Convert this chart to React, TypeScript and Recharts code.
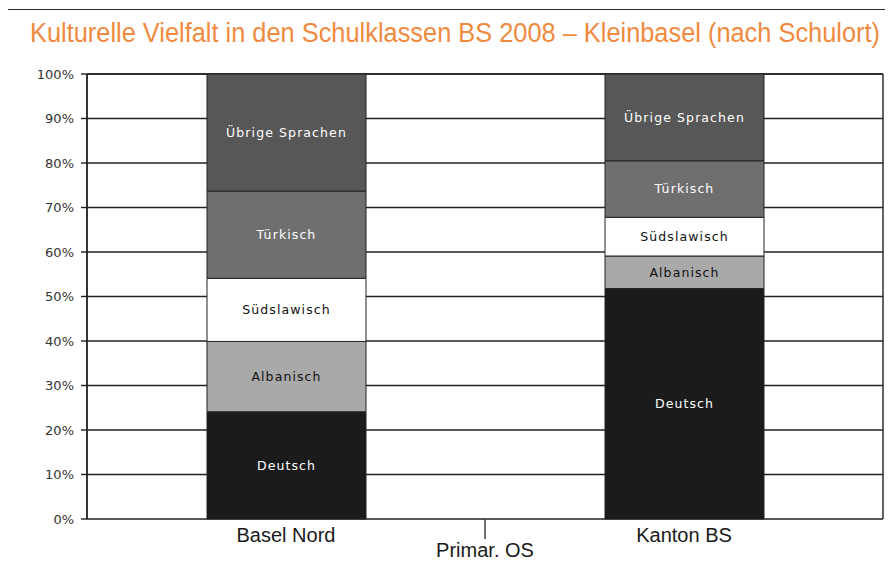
import React from 'react';
import { BarChart, Bar, XAxis, YAxis, CartesianGrid, LabelList } from 'recharts';

const categories = ['Basel Nord', 'Kanton BS'];
const groupLabel = 'Primar. OS';
const deutsch = [24.1, 51.8];
const albanisch = [15.8, 7.3];
const suedslawisch = [14.2, 8.7];
const tuerkisch = [19.6, 12.7];
const uebrige = [26.3, 19.5];
const yTicks = [0, 10, 20, 30, 40, 50, 60, 70, 80, 90, 100];
const title = 'Kulturelle Vielfalt in den Schulklassen BS 2008 – Kleinbasel (nach Schulort)';

const series = [
  { key: 'deutsch', name: 'Deutsch', values: deutsch, fill: '#1b1b1b', text: '#ffffff' },
  { key: 'albanisch', name: 'Albanisch', values: albanisch, fill: '#a9a9a9', text: '#111111' },
  { key: 'suedslawisch', name: 'Südslawisch', values: suedslawisch, fill: '#ffffff', text: '#111111' },
  { key: 'tuerkisch', name: 'Türkisch', values: tuerkisch, fill: '#6f6f6f', text: '#ffffff' },
  { key: 'uebrige', name: 'Übrige Sprachen', values: uebrige, fill: '#575757', text: '#ffffff' },
];

const data = categories.map((c, i) => {
  const row: any = { cat: c, group: groupLabel };
  series.forEach((s) => {
    row[s.key] = s.values[i];
  });
  return row;
});

export default function App() {
  return (
    <div style={{ position: 'relative', width: 893, height: 566, margin: -8, overflow: 'hidden', background: '#fff' }}>
      <div
        style={{
          position: 'absolute',
          left: 7,
          top: 9,
          width: 950,
          height: 650,
          borderTop: '1.5px solid #2a2a2a',
          borderLeft: '1.5px solid #2a2a2a',
        }}
      />
      <svg width={893} height={60} style={{ position: 'absolute', left: 0, top: 0 }}>
        <text
          x={30}
          y={42}
          textLength={850}
          lengthAdjust="spacingAndGlyphs"
          fontFamily="Liberation Sans, Arial, sans-serif"
          fontSize={27}
          fill="#f08a3e"
        >
          {title}
        </text>
      </svg>
      <div style={{ position: 'absolute', left: 0, top: 0 }}>
        <BarChart
          width={893}
          height={566}
          data={data}
          margin={{ top: 74, right: 10, bottom: 0, left: 0 }}
          barSize={159}
        >
          <CartesianGrid
            stroke="#222"
            strokeWidth={1.4}
            vertical={true}
            verticalCoordinatesGenerator={({ offset }: any) => [offset.left, offset.left + offset.width]}
          />
          <XAxis
            xAxisId="main"
            dataKey="cat"
            height={46}
            tickLine={false}
            axisLine={false}
            tickSize={7}
            tickMargin={1}
            tick={{ fontFamily: 'Liberation Sans, Arial, sans-serif', fontSize: 20, fill: '#1a1a1a' }}
            interval={0}
          />
          <XAxis
            xAxisId="grp"
            dataKey="group"
            allowDuplicatedCategory={false}
            height={1}
            axisLine={false}
            tickLine={{ stroke: '#333', strokeWidth: 1.4 }}
            tickSize={20}
            tickMargin={4}
            tick={{ fontFamily: 'Liberation Sans, Arial, sans-serif', fontSize: 20, fill: '#1a1a1a' }}
            interval={0}
          />
          <YAxis
            width={87}
            domain={[0, 100]}
            ticks={yTicks}
            tickFormatter={(v: number) => `${v}%`}
            axisLine={{ stroke: '#222', strokeWidth: 1.4 }}
            tickLine={{ stroke: '#222', strokeWidth: 1.4 }}
            tickSize={6}
            tickMargin={7}
            tick={{ fontFamily: 'DejaVu Sans, sans-serif', fontSize: 13, fill: '#333' }}
            interval={0}
          />
          {series.map((s) => (
            <Bar
              key={s.key}
              xAxisId="main"
              dataKey={s.key}
              stackId="a"
              fill={s.fill}
              stroke="#222"
              strokeWidth={1}
              isAnimationActive={false}
            >
              <LabelList
                dataKey={s.key}
                position="center"
                formatter={() => s.name}
                style={{ fontFamily: 'DejaVu Sans, sans-serif', fontSize: 12.5, letterSpacing: 1.1 }}
                fill={s.text}
              />
            </Bar>
          ))}
        </BarChart>
      </div>
    </div>
  );
}
